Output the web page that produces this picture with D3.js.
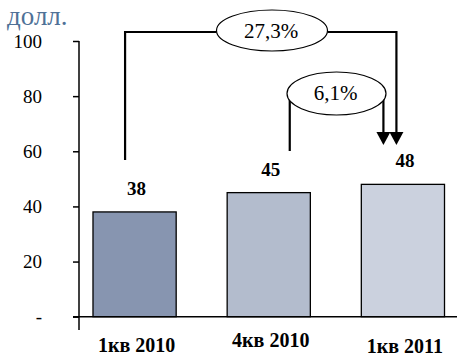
<!DOCTYPE html>
<html>
<head>
<meta charset="utf-8">
<script src="https://cdn.jsdelivr.net/npm/d3@7"></script>
<style>
  html, body { margin: 0; padding: 0; background: #fff; }
  svg { display: block; }
</style>
</head>
<body>
<svg id="chart" width="457" height="356"></svg>
<script>
// Quarterly values, USD
const categories = ["1кв 2010", "4кв 2010", "1кв 2011"];
const values = [38, 45, 48];
const valueLabels = ["38", "45", "48"];
const barColors = ["#8795b0", "#b3bccd", "#cbd1de"];
const yTicks = [0, 20, 40, 60, 80, 100];
const yTickLabels = ["-", "20", "40", "60", "80", "100"];
const unitLabel = "долл.";
// growth callouts: from bar index -> to bar index
const growthFrom = [0, 1];
const growthTo = [2, 2];
const growthLabels = ["27,3%", "6,1%"];

const FONT = "'Liberation Serif', 'Times New Roman', serif";

const svg = d3.select("#chart").attr("font-family", FONT);

const x = d3.scaleBand()
  .domain(categories)
  .range([67.5, 470])
  .paddingInner(0.38)
  .paddingOuter(0.19);

const y = d3.scaleLinear().domain([0, 100]).range([316.7, 41]);

// unit caption
svg.append("text")
  .attr("x", 7).attr("y", 25)
  .attr("fill", "#4f7197")
  .attr("font-size", 27)
  .text(unitLabel);

// y axis
const yAxis = d3.axisLeft(y)
  .tickValues(yTicks)
  .tickFormat((d, i) => yTickLabels[i])
  .tickSize(6)
  .tickPadding(31);
const gy = svg.append("g").attr("transform", "translate(79,0)").call(yAxis);
gy.attr("font-family", FONT).attr("font-size", 19);
gy.select(".domain").remove();
gy.selectAll(".tick line").attr("stroke", "#000").attr("stroke-width", 1.5);
gy.selectAll(".tick text").attr("fill", "#000");
gy.append("line")
  .attr("x1", 0).attr("x2", 0)
  .attr("y1", y(100)).attr("y2", 330)
  .attr("stroke", "#000").attr("stroke-width", 1.5);

// bars
svg.append("g").selectAll("rect")
  .data(values)
  .join("rect")
  .attr("x", (d, i) => x(categories[i]))
  .attr("y", d => y(d))
  .attr("width", x.bandwidth())
  .attr("height", d => y(0) - y(d))
  .attr("fill", (d, i) => barColors[i])
  .attr("stroke", "#000")
  .attr("stroke-width", 1.3);

// baseline
svg.append("line")
  .attr("x1", 73).attr("x2", 457)
  .attr("y1", y(0)).attr("y2", y(0))
  .attr("stroke", "#000").attr("stroke-width", 1.5);

// value labels
svg.append("g").selectAll("text")
  .data(values)
  .join("text")
  .attr("x", (d, i) => x(categories[i]) + x.bandwidth() / 2 + 2)
  .attr("y", d => y(d) - 17)
  .attr("text-anchor", "middle")
  .attr("font-weight", "bold")
  .attr("font-size", 19)
  .text((d, i) => valueLabels[i]);

// category labels
const catBaseline = [352, 347, 353];
svg.append("g").selectAll("text")
  .data(categories)
  .join("text")
  .attr("x", d => x(d) + x.bandwidth() / 2 + 2)
  .attr("y", (d, i) => catBaseline[i])
  .attr("text-anchor", "middle")
  .attr("font-weight", "bold")
  .attr("font-size", 20)
  .text(d => d);

// growth callouts
const cx = i => x(categories[i]) + x.bandwidth() / 2;
const ann = svg.append("g").attr("fill", "none").attr("stroke", "#000");

function arrowHead(xTip, yTip) {
  svg.append("path")
    .attr("d", `M${xTip - 7},${yTip - 13}L${xTip + 7},${yTip - 13}L${xTip},${yTip}Z`)
    .attr("fill", "#000");
}

// long-range callout (first -> last)
{
  const x0 = cx(growthFrom[0]) - 9.5;
  const x1 = cx(growthTo[0]) - 6.5;
  const yTop = 32;
  const ex = 272, ey = 30.5, rx = 55.5, ry = 20.5;
  ann.append("path")
    .attr("d", `M${x0},160V${yTop}H${ex - rx}M${ex + rx},${yTop}H${x1}V133`)
    .attr("stroke-width", 2.2);
  ann.append("ellipse")
    .attr("cx", ex).attr("cy", ey).attr("rx", rx).attr("ry", ry)
    .attr("fill", "#fff").attr("stroke-width", 1.2);
  svg.append("text")
    .attr("x", ex - 1).attr("y", ey + 7)
    .attr("text-anchor", "middle").attr("font-size", 21)
    .text(growthLabels[0]);
  arrowHead(x1, 145);
}

// short-range callout (previous quarter -> last)
{
  const x0 = cx(growthFrom[1]) + 21;
  const x1 = cx(growthTo[1]) - 19.5;
  const ex = 336.5, ey = 93.5, rx = 49.5, ry = 21.5;
  ann.append("path")
    .attr("d", `M${x0},151V${ey}M${x1},${ey}V133`)
    .attr("stroke-width", 2.2);
  ann.append("ellipse")
    .attr("cx", ex).attr("cy", ey).attr("rx", rx).attr("ry", ry)
    .attr("fill", "#fff").attr("stroke-width", 1.2);
  svg.append("text")
    .attr("x", ex - 1).attr("y", ey + 6)
    .attr("text-anchor", "middle").attr("font-size", 21)
    .text(growthLabels[1]);
  arrowHead(x1, 145);
}
</script>
</body>
</html>
